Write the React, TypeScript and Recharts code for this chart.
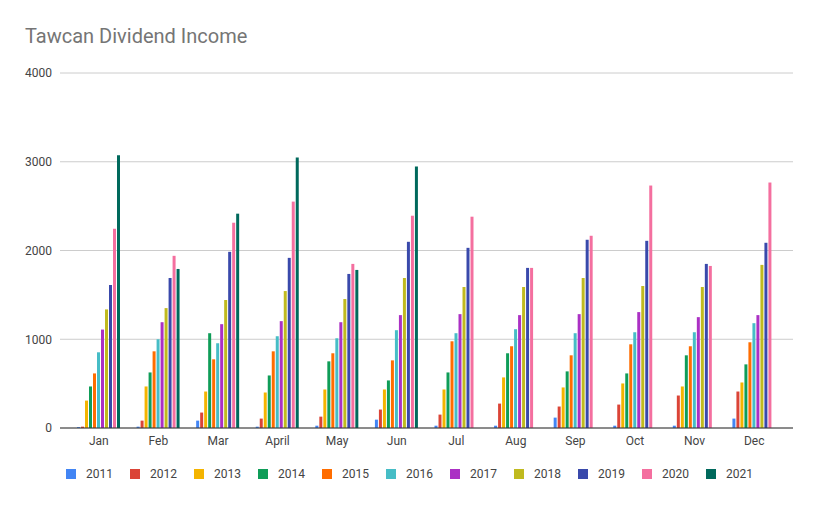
import React from 'react';
import { BarChart, Bar, XAxis, YAxis, CartesianGrid } from 'recharts';

const months = ['Jan', 'Feb', 'Mar', 'April', 'May', 'Jun', 'Jul', 'Aug', 'Sep', 'Oct', 'Nov', 'Dec'];
const years = ['2011', '2012', '2013', '2014', '2015', '2016', '2017', '2018', '2019', '2020', '2021'];
const yTicks = [0, 1000, 2000, 3000, 4000];

// monthly dividend income per year
const y2011 = [10, 15, 83, 15, 26, 94, 26, 26, 117, 26, 26, 106];
const y2012 = [15, 83, 174, 106, 128, 208, 151, 275, 242, 264, 366, 411];
const y2013 = [309, 468, 411, 400, 434, 434, 434, 570, 457, 502, 468, 513];
const y2014 = [468, 626, 1068, 592, 751, 536, 626, 842, 638, 615, 819, 717];
const y2015 = [615, 864, 774, 864, 842, 762, 977, 921, 819, 943, 921, 966];
const y2016 = [853, 1000, 955, 1034, 1011, 1102, 1068, 1113, 1068, 1079, 1079, 1181];
const y2017 = [1109, 1192, 1170, 1204, 1192, 1272, 1283, 1272, 1283, 1306, 1249, 1272];
const y2018 = [1336, 1351, 1442, 1543, 1453, 1690, 1589, 1589, 1690, 1600, 1589, 1838];
const y2019 = [1611, 1690, 1985, 1917, 1736, 2098, 2030, 1804, 2121, 2109, 1849, 2087];
const y2020 = [2245, 1940, 2313, 2551, 1849, 2392, 2381, 1804, 2166, 2732, 1826, 2766];
const y2021 = [3072, 1792, 2415, 3049, 1781, 2947, null, null, null, null, null, null];

const series = [y2011, y2012, y2013, y2014, y2015, y2016, y2017, y2018, y2019, y2020, y2021];

const colors = [
  '#4285f4', '#db4437', '#f4b400', '#0f9d58', '#ff6d00', '#46bdc6',
  '#ab30c4', '#c0ba1f', '#3949ab', '#f46f9f', '#00695c',
];

const data = months.map((m, i) => {
  const row: Record<string, string | number | null> = { month: m };
  years.forEach((y, j) => {
    row[y] = series[j][i];
  });
  return row;
});

const font = 'Roboto, "Noto Sans", sans-serif';

export default function App() {
  return (
    <div style={{ position: 'absolute', left: 0, top: 0, width: 819, height: 506, background: '#fff', fontFamily: font }}>
      <div style={{ position: 'absolute', left: 25, top: 24, fontSize: 20, color: '#757575' }}>
        Tawcan Dividend Income
      </div>
      <BarChart
        width={819}
        height={506}
        data={data}
        margin={{ top: 73, right: 26, left: 0, bottom: 58 }}
        barSize={3}
        barGap={1}
      >
        <CartesianGrid vertical={false} stroke="#cccccc" />
        <XAxis
          dataKey="month"
          height={20}
          padding={{ left: 9, right: 9 }}
          tickLine={false}
          axisLine={{ stroke: '#333333' }}
          tick={{ fill: '#444444', fontSize: 12, fontFamily: font }}
          interval={0}
        />
        <YAxis
          width={60}
          domain={[0, 4000]}
          ticks={yTicks}
          axisLine={false}
          tickLine={false}
          tick={{ fill: '#444444', fontSize: 12, fontFamily: font }}
        />
        {years.map((y, j) => (
          <Bar key={y} dataKey={y} fill={colors[j]} isAnimationActive={false} />
        ))}
      </BarChart>
      <div
        style={{
          position: 'absolute',
          top: 467,
          left: 0,
          width: 819,
          display: 'flex',
          justifyContent: 'center',
          gap: 17,
          fontSize: 12,
          color: '#444444',
        }}
      >
        {years.map((y, j) => (
          <div key={y} style={{ display: 'flex', alignItems: 'center' }}>
            <span style={{ width: 10, height: 10, background: colors[j], marginRight: 10 }} />
            <span>{y}</span>
          </div>
        ))}
      </div>
    </div>
  );
}
